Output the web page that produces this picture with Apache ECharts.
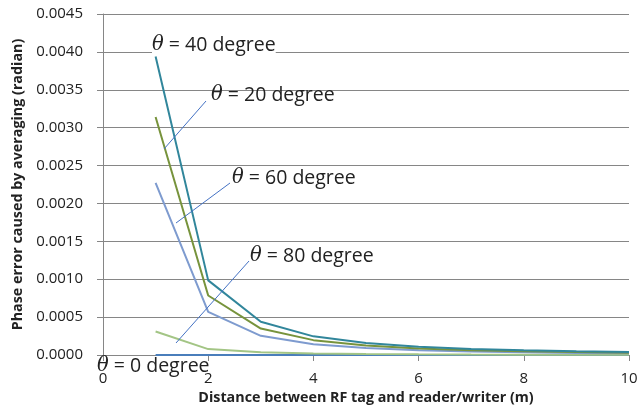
<!DOCTYPE html>
<html>
<head>
<meta charset="utf-8">
<script src="https://cdn.jsdelivr.net/npm/echarts@6/dist/echarts.min.js"></script>
<style>
html,body{margin:0;padding:0;background:#fff;}
#c{width:641px;height:414px;}
</style>
</head>
<body>
<div id="c"></div>
<script>
// ---- data ----
const distances = [1, 2, 3, 4, 5, 6, 7, 8, 9, 10];
const theta40 = [0.00394, 0.000985, 0.000438, 0.000246, 0.000158, 0.000109, 0.000080, 0.000062, 0.000049, 0.000039];
const theta20 = [0.00314, 0.000785, 0.000349, 0.000196, 0.000126, 0.000087, 0.000064, 0.000049, 0.000039, 0.000031];
const theta60 = [0.00227, 0.000568, 0.000253, 0.000142, 0.000091, 0.000063, 0.000046, 0.000036, 0.000028, 0.000023];
const theta80 = [0.00031, 0.000078, 0.000035, 0.0000195, 0.0000125, 0.0000087, 0.0000064, 0.0000049, 0.0000039, 0.0000031];
const theta0  = [0, 0, 0, 0, 0, 0, 0, 0, 0, 0];
const seriesNames = ['θ = 40 degree', 'θ = 20 degree', 'θ = 60 degree', 'θ = 80 degree', 'θ = 0 degree'];
const seriesValues = [theta40, theta20, theta60, theta80, theta0];
const seriesColors = ['#31869B', '#77933C', '#7E9BCF', '#A3C585', '#4A7EBB'];
const xTitle = 'Distance between RF tag and reader/writer (m)';
const yTitle = 'Phase error caused by averaging (radian)';

const chart = echarts.init(document.getElementById('c'), null, {renderer: 'canvas'});
const FONT = 'Open Sans';

const series = seriesValues.map((vals, i) => ({
  name: seriesNames[i],
  type: 'line',
  data: distances.map((d, k) => [d, vals[k]]),
  showSymbol: false,
  symbol: 'none',
  lineStyle: {color: seriesColors[i], width: 2},
  itemStyle: {color: seriesColors[i]},
  z: 3 + (4 - i),
  animation: false
}));

function label(txt, x, y, bg) {
  const num = txt.replace('θ', '');
  return {
    type: 'text', left: x, top: y, z: 20,
    style: {
      text: '{i|θ}{n|' + num + '}',
      backgroundColor: bg ? '#fff' : 'transparent',
      rich: {
        i: {fontFamily: 'DejaVu Serif', fontStyle: 'italic', fontSize: 19.5, fill: '#222'},
        n: {fontFamily: FONT, fontSize: 19.5, fill: '#222'}
      }
    }
  };
}
function leader(x1, y1, x2, y2) {
  return {type: 'line', z: 19, shape: {x1, y1, x2, y2}, style: {stroke: '#4472C4', lineWidth: 1}};
}

const graphic = [
  label(seriesNames[0], 152, 35, true),
  label(seriesNames[1], 211, 85, false),
  label(seriesNames[2], 232, 168, false),
  label(seriesNames[3], 250, 246, false),
  label(seriesNames[4], 97, 356, false),
  leader(206, 101, 164, 149), leader(230, 183, 176, 223), leader(249, 261, 176, 343)
];

chart.setOption({
  animation: false,
  backgroundColor: '#fff',
  grid: {left: 103, right: 12, top: 14, bottom: 59, containLabel: false},
  xAxis: {
    type: 'value', min: 0, max: 10, interval: 2,
    name: xTitle, nameLocation: 'middle', nameGap: 28,
    nameTextStyle: {fontFamily: FONT, fontWeight: 'bold', fontSize: 14.3, color: '#222'},
    axisLine: {show: true, onZero: false, lineStyle: {color: '#868686', width: 1}},
    axisTick: {show: true, inside: false, length: 6, lineStyle: {color: '#868686'}},
    axisLabel: {fontFamily: FONT, fontSize: 15, color: '#222', margin: 16},
    splitLine: {show: false}
  },
  yAxis: {
    type: 'value', min: 0, max: 0.0045, interval: 0.0005,
    name: yTitle, nameLocation: 'middle', nameGap: 77, nameRotate: 90,
    nameTextStyle: {fontFamily: FONT, fontWeight: 'bold', fontSize: 14.3, color: '#222'},
    axisLine: {show: true, lineStyle: {color: '#868686', width: 1}},
    axisTick: {show: true, inside: false, length: 6, lineStyle: {color: '#868686'}},
    axisLabel: {fontFamily: FONT, fontSize: 15, color: '#222', margin: 20, formatter: v => v.toFixed(4)},
    splitLine: {show: true, lineStyle: {color: '#868686', width: 1}}
  },
  series: series,
  graphic: graphic
});
</script>
</body>
</html>
